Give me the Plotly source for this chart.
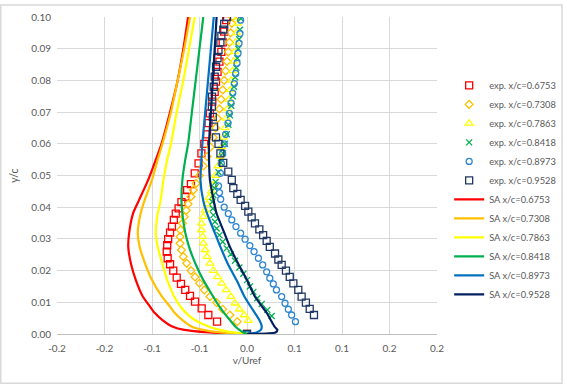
import plotly.graph_objects as go

# ---------------- data ----------------
x_tick_vals = [-0.2, -0.15, -0.1, -0.05, 0.0, 0.05, 0.1, 0.15, 0.2]
x_tick_text = ["-0.2", "-0.2", "-0.1", "-0.1", "0.0", "0.1", "0.1", "0.2", "0.2"]

stations = ["0.6753", "0.7308", "0.7863", "0.8418", "0.8973", "0.9528"]

# experimental data (v/Uref, y/c)
exp1_y = [0.0, 0.0039, 0.0060, 0.0081, 0.0102, 0.0120, 0.0139, 0.0158, 0.0178, 0.0200, 0.0220, 0.0239, 0.0260,
          0.0280, 0.0299, 0.0320, 0.0339, 0.0360, 0.0380, 0.0396, 0.0416, 0.0433, 0.0454, 0.0473, 0.0507,
          0.0538, 0.0570, 0.0600, 0.0630, 0.0665, 0.0696, 0.0733, 0.0764, 0.0796, 0.0827, 0.0859, 0.0890,
          0.0920, 0.0954, 0.0990]
exp1_x = [0.0, -0.0315, -0.0407, -0.0477, -0.0547, -0.0600, -0.0650, -0.0695, -0.0740, -0.0776, -0.0810, -0.0835,
          -0.0845, -0.0840, -0.0830, -0.0810, -0.0790, -0.0770, -0.0750, -0.0720, -0.0690, -0.0650, -0.0630,
          -0.0590, -0.0550, -0.0510, -0.0480, -0.0450, -0.0420, -0.0405, -0.0390, -0.0365, -0.0340, -0.0326,
          -0.0310, -0.0290, -0.0270, -0.0256, -0.0240, -0.0220]

exp2_y = [0.0, 0.0039, 0.0060, 0.0078, 0.0099, 0.0118, 0.0139, 0.0160, 0.0180, 0.0200, 0.0223, 0.0244, 0.0265,
          0.0286, 0.0307, 0.0328, 0.0349, 0.0370, 0.0390, 0.0410, 0.0433, 0.0454, 0.0475, 0.0500, 0.0530,
          0.0560, 0.0590, 0.0620, 0.0650, 0.0680, 0.0710, 0.0740, 0.0770, 0.0800, 0.0830, 0.0860, 0.0890,
          0.0920, 0.0950, 0.0980, 0.1000]
exp2_x = [0.0, -0.0102, -0.0180, -0.0256, -0.0320, -0.0390, -0.0450, -0.0500, -0.0547, -0.0590, -0.0635, -0.0670,
          -0.0690, -0.0705, -0.0705, -0.0700, -0.0680, -0.0660, -0.0640, -0.0620, -0.0590, -0.0565, -0.0537,
          -0.0500, -0.0460, -0.0420, -0.0385, -0.0355, -0.0330, -0.0310, -0.0290, -0.0272, -0.0255, -0.0240,
          -0.0225, -0.0210, -0.0197, -0.0185, -0.0173, -0.0160, -0.0150]

exp3_y = [0.0, 0.0042, 0.0060, 0.0078, 0.0097, 0.0118, 0.0139, 0.0160, 0.0180, 0.0200, 0.0223, 0.0244, 0.0265,
          0.0286, 0.0307, 0.0328, 0.0349, 0.0370, 0.0390, 0.0410, 0.0430, 0.0450, 0.0470, 0.0500, 0.0530,
          0.0560, 0.0590, 0.0620, 0.0650, 0.0680, 0.0710, 0.0740, 0.0770, 0.0800, 0.0830, 0.0860, 0.0890,
          0.0920, 0.0950, 0.0980, 0.1000]
exp3_x = [0.0, 0.0014, -0.0030, -0.0080, -0.0126, -0.0170, -0.0220, -0.0267, -0.0310, -0.0354, -0.0390, -0.0420,
          -0.0440, -0.0460, -0.0467, -0.0480, -0.0480, -0.0460, -0.0440, -0.0420, -0.0400, -0.0375, -0.0355,
          -0.0330, -0.0305, -0.0285, -0.0265, -0.0248, -0.0232, -0.0218, -0.0204, -0.0190, -0.0177, -0.0165,
          -0.0153, -0.0142, -0.0131, -0.0121, -0.0111, -0.0102, -0.0096]

exp4_y = [0.0, 0.0057, 0.0076, 0.0095, 0.0113, 0.0133, 0.0150, 0.0170, 0.0190, 0.0210, 0.0231, 0.0252, 0.0270,
          0.0291, 0.0312, 0.0333, 0.0354, 0.0375, 0.0396, 0.0417, 0.0438, 0.0460, 0.0480, 0.0510, 0.0540,
          0.0570, 0.0600, 0.0630, 0.0660, 0.0690, 0.0720, 0.0750, 0.0780, 0.0810, 0.0840, 0.0870, 0.0900,
          0.0930, 0.0960, 0.0995]
exp4_x = [0.0, 0.0260, 0.0214, 0.0155, 0.0108, 0.0067, 0.0030, 0.0000, -0.0039, -0.0080, -0.0126, -0.0170, -0.0214,
          -0.0256, -0.0290, -0.0320, -0.0337, -0.0354, -0.0360, -0.0365, -0.0354, -0.0340, -0.0330, -0.0300,
          -0.0275, -0.0252, -0.0232, -0.0213, -0.0196, -0.0180, -0.0165, -0.0150, -0.0137, -0.0125, -0.0113,
          -0.0102, -0.0092, -0.0083, -0.0074, -0.0065]

exp5_y = [0.0, 0.0039, 0.0060, 0.0078, 0.0097, 0.0118, 0.0139, 0.0158, 0.0176, 0.0196, 0.0218, 0.0239, 0.0260,
          0.0279, 0.0299, 0.0318, 0.0339, 0.0360, 0.0380, 0.0400, 0.0425, 0.0446, 0.0467, 0.0507, 0.0538,
          0.0570, 0.0600, 0.0630, 0.0665, 0.0696, 0.0728, 0.0760, 0.0790, 0.0822, 0.0854, 0.0885, 0.0917,
          0.0948, 0.0990]
exp5_x = [0.0, 0.0510, 0.0470, 0.0435, 0.0400, 0.0365, 0.0310, 0.0277, 0.0240, 0.0207, 0.0165, 0.0120, 0.0074,
          0.0030, -0.0020, -0.0067, -0.0116, -0.0160, -0.0197, -0.0240, -0.0277, -0.0290, -0.0300, -0.0280,
          -0.0270, -0.0256, -0.0240, -0.0225, -0.0200, -0.0186, -0.0168, -0.0150, -0.0133, -0.0119, -0.0105,
          -0.0095, -0.0084, -0.0074, -0.0067]

exp6_y = [0.0, 0.0060, 0.0079, 0.0099, 0.0118, 0.0139, 0.0160, 0.0180, 0.0200, 0.0218, 0.0235, 0.0254, 0.0275,
          0.0294, 0.0312, 0.0330, 0.0349, 0.0368, 0.0386, 0.0404, 0.0423, 0.0442, 0.0460, 0.0486, 0.0512,
          0.0540, 0.0570, 0.0600, 0.0620, 0.0654, 0.0685, 0.0717, 0.0749, 0.0780, 0.0812, 0.0843, 0.0870,
          0.0896, 0.0920, 0.0940, 0.0960, 0.0978, 0.1000]
exp6_x = [0.0, 0.0705, 0.0660, 0.0620, 0.0575, 0.0540, 0.0488, 0.0450, 0.0410, 0.0365, 0.0330, 0.0295, 0.0240,
          0.0207, 0.0170, 0.0130, 0.0084, 0.0049, 0.0014, -0.0020, -0.0067, -0.0102, -0.0144, -0.0160, -0.0197,
          -0.0250, -0.0280, -0.0300, -0.0326, -0.0347, -0.0360, -0.0370, -0.0368, -0.0350, -0.0340, -0.0326,
          -0.0310, -0.0300, -0.0280, -0.0270, -0.0250, -0.0240, -0.0210]

# SA computations: common y/c stations
sa_y = [0.0, 0.0005, 0.0013, 0.0023, 0.0044, 0.0066, 0.0086, 0.012, 0.017, 0.022, 0.0275, 0.032, 0.038,
        0.042, 0.0486, 0.055, 0.06, 0.07, 0.08, 0.09, 0.10]
sa1_x = [0.0, -0.040, -0.066, -0.078, -0.089, -0.097, -0.102, -0.110, -0.117, -0.122, -0.125, -0.124, -0.120,
         -0.114, -0.104, -0.096, -0.090, -0.081, -0.073, -0.067, -0.062]
sa2_x = [0.0, -0.028, -0.046, -0.058, -0.068, -0.076, -0.081, -0.090, -0.100, -0.107, -0.113, -0.115, -0.112,
         -0.108, -0.100, -0.094, -0.089, -0.080, -0.073, -0.066, -0.060]
sa3_x = [0.0, -0.015, -0.028, -0.040, -0.055, -0.064, -0.070, -0.077, -0.084, -0.089, -0.094, -0.096, -0.094,
         -0.091, -0.088, -0.084, -0.080, -0.074, -0.067, -0.061, -0.055]
sa4_x = [0.0, -0.004, -0.008, -0.012, -0.018, -0.024, -0.029, -0.036, -0.046, -0.054, -0.061, -0.065, -0.068,
         -0.069, -0.068, -0.065, -0.062, -0.058, -0.054, -0.050, -0.046]
sa5_x = [0.0, 0.010, 0.0145, 0.0155, 0.013, 0.0084, 0.004, -0.003, -0.011, -0.020, -0.028, -0.034, -0.042,
         -0.046, -0.049, -0.048, -0.047, -0.044, -0.041, -0.038, -0.035]
sa6_x = [0.0, 0.030, 0.032, 0.029, 0.025, 0.021, 0.016, 0.008, 0.000, -0.009, -0.018, -0.024, -0.032,
         -0.035, -0.039, -0.040, -0.040, -0.038, -0.036, -0.034, -0.032]

# ---------------- styling ----------------
exp_sets = [(exp1_x, exp1_y), (exp2_x, exp2_y), (exp3_x, exp3_y), (exp4_x, exp4_y), (exp5_x, exp5_y), (exp6_x, exp6_y)]
sa_sets = [sa1_x, sa2_x, sa3_x, sa4_x, sa5_x, sa6_x]
exp_colors = ["#FF0000", "#FFC000", "#FFFF00", "#00B050", "#2E86D0", "#203864"]
sa_colors = ["#FF0000", "#FFC000", "#FFFF00", "#00B050", "#0070C0", "#002060"]
exp_symbols = ["square-open", "diamond-open", "triangle-up-open", "x-thin-open", "circle-open", "square-open"]
exp_sizes = [7, 6, 7, 6, 6, 7]

FONT = "Lato, Carlito, 'Liberation Sans', sans-serif"
GRID = "#D9D9D9"
TXT = "#595959"

fig = go.Figure()
for i, (xs, ys) in enumerate(exp_sets):
    fig.add_trace(go.Scatter(
        x=xs, y=ys, mode="markers", name="exp. x/c=" + stations[i],
        marker=dict(symbol=exp_symbols[i], size=exp_sizes[i], color=exp_colors[i],
                    line=dict(width=1.3, color=exp_colors[i]))))
for i, xs in enumerate(sa_sets):
    fig.add_trace(go.Scatter(
        x=xs, y=sa_y, mode="lines", name="SA x/c=" + stations[i],
        line=dict(color=sa_colors[i], width=2.2, shape="spline", smoothing=0.6)))

fig.update_layout(
    width=567, height=386,
    margin=dict(l=57, r=130, t=17, b=52, autoexpand=False),
    paper_bgcolor="white", plot_bgcolor="white",
    font=dict(family=FONT, size=10, color=TXT),
    legend=dict(x=1.032, y=0.83, xanchor="left", yanchor="top",
                font=dict(size=9.3, color=TXT), bgcolor="rgba(0,0,0,0)",
                itemwidth=30, tracegroupgap=0),
    xaxis=dict(range=[-0.2, 0.2], tickmode="array", tickvals=x_tick_vals, ticktext=x_tick_text,
               showgrid=True, gridcolor=GRID, gridwidth=1, zeroline=False,
               showline=True, linecolor="#BFBFBF", linewidth=1, ticks="",
               ticklabelstandoff=5,
               title=dict(text="v/Uref", font=dict(size=10, color=TXT), standoff=2),
               tickfont=dict(size=10, color=TXT)),
    yaxis=dict(range=[0, 0.10], dtick=0.01, tickformat=".2f",
               showgrid=True, gridcolor=GRID, gridwidth=1, zeroline=False,
               showline=False, ticks="",
               ticklabelstandoff=5,
               title=dict(text="y/c", font=dict(size=10.5, color=TXT), standoff=10),
               tickfont=dict(size=10, color=TXT)),
    shapes=[dict(type="rect", xref="paper", yref="paper",
                 x0=-0.148, x1=1.329, y0=-0.155, y1=1.038,
                 line=dict(color="#D9D9D9", width=1.5), fillcolor="rgba(0,0,0,0)", layer="below")],
)

fig.write_html("out.html")
